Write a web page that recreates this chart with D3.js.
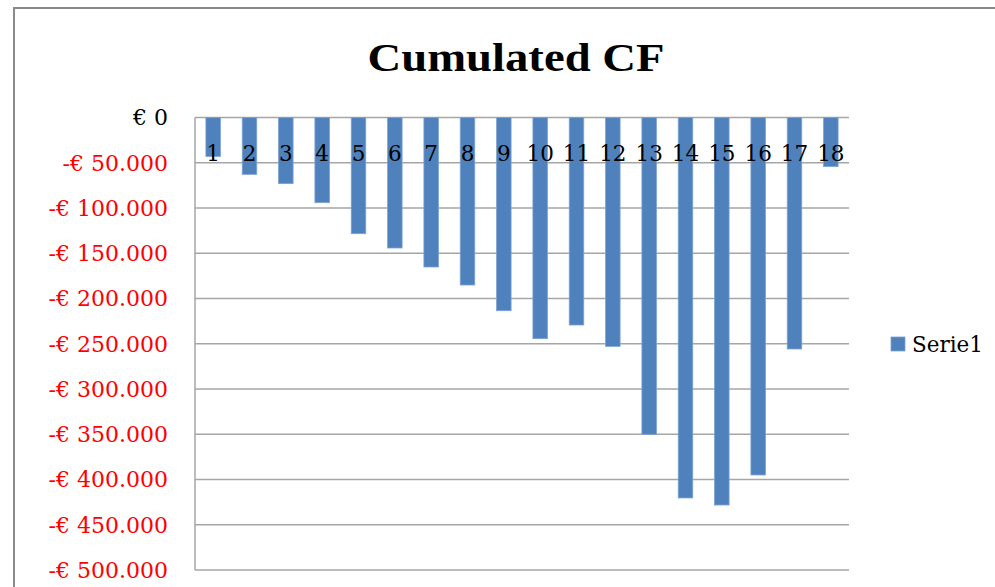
<!DOCTYPE html>
<html>
<head>
<meta charset="utf-8">
<script src="https://cdn.jsdelivr.net/npm/d3@7"></script>
<style>
  html, body { margin: 0; padding: 0; background: #fff; }
  svg { display: block; }
</style>
</head>
<body>
<svg id="chart" width="995" height="587"></svg>
<script>
// Data
const categories = ["1","2","3","4","5","6","7","8","9","10","11","12","13","14","15","16","17","18"];
const values = [-43000, -62800, -73100, -94100, -128400, -144200, -165200, -185100, -213500,
                -244400, -229300, -252900, -350100, -420400, -428200, -395000, -255800, -54300];
const yTicks = [0, -50000, -100000, -150000, -200000, -250000, -300000, -350000, -400000, -450000, -500000];
const seriesName = "Serie1";
const title = "Cumulated CF";

const svg = d3.select("#chart");
const W = 995, H = 587;
const plot = { left: 195, right: 849, top: 117.5, bottom: 570 };
const serif = "'DejaVu Serif', serif";

// Outer chart border
svg.append("rect")
  .attr("x", 14).attr("y", 8)
  .attr("width", W + 20).attr("height", H + 20)
  .attr("fill", "#fff").attr("stroke", "#8a8a8a").attr("stroke-width", 2);

const x = d3.scaleBand().domain(categories).range([plot.left, plot.right]).paddingInner(0.6).paddingOuter(0.3);
const y = d3.scaleLinear().domain([-500000, 0]).range([plot.bottom, plot.top]);

// Gridlines
svg.append("g").selectAll("line").data(yTicks).join("line")
  .attr("x1", plot.left).attr("x2", plot.right)
  .attr("y1", d => y(d)).attr("y2", d => y(d))
  .attr("stroke", "#a6a6a6").attr("stroke-width", 1.5);

// Vertical axis line
svg.append("line")
  .attr("x1", plot.left).attr("x2", plot.left)
  .attr("y1", plot.top).attr("y2", plot.bottom)
  .attr("stroke", "#a6a6a6").attr("stroke-width", 1.5);

// Bars
svg.append("g").selectAll("rect").data(values).join("rect")
  .attr("x", (d, i) => x(categories[i]))
  .attr("width", x.bandwidth())
  .attr("y", d => y(Math.max(0, d)))
  .attr("height", d => Math.abs(y(d) - y(0)))
  .attr("fill", "#4f81bd")
  .attr("stroke", "#7da2d3").attr("stroke-width", 0.8);

// Y tick labels
const fmt = d => d === 0 ? "€ 0" : "-€ " + d3.format(",")(Math.abs(d)).replace(/,/g, ".");
svg.append("g").selectAll("text").data(yTicks).join("text")
  .attr("x", 168).attr("y", d => y(d))
  .attr("dy", "0.36em")
  .attr("text-anchor", "end")
  .attr("font-family", serif)
  .attr("font-size", 22)
  .attr("fill", d => d === 0 ? "#000" : "#ff0000")
  .text(fmt);

// Category labels
svg.append("g").selectAll("text").data(categories).join("text")
  .attr("x", d => x(d) + x.bandwidth() / 2)
  .attr("y", 160.5)
  .attr("text-anchor", "middle")
  .attr("font-family", serif)
  .attr("font-size", 21.5)
  .attr("fill", "#000")
  .text(d => d);

// Title
svg.append("text")
  .attr("x", 516).attr("y", 71)
  .attr("text-anchor", "middle")
  .attr("font-family", "'Liberation Serif', serif")
  .attr("font-weight", "bold")
  .attr("font-size", 40)
  .attr("textLength", 297)
  .attr("lengthAdjust", "spacingAndGlyphs")
  .attr("fill", "#000")
  .text(title);

// Legend
svg.append("rect")
  .attr("x", 891).attr("y", 337)
  .attr("width", 14).attr("height", 14)
  .attr("fill", "#4f81bd").attr("stroke", "#7da2d3").attr("stroke-width", 0.8);
svg.append("text")
  .attr("x", 912).attr("y", 352)
  .attr("font-family", serif)
  .attr("font-size", 21.5)
  .attr("fill", "#000")
  .text(seriesName);
</script>
</body>
</html>
